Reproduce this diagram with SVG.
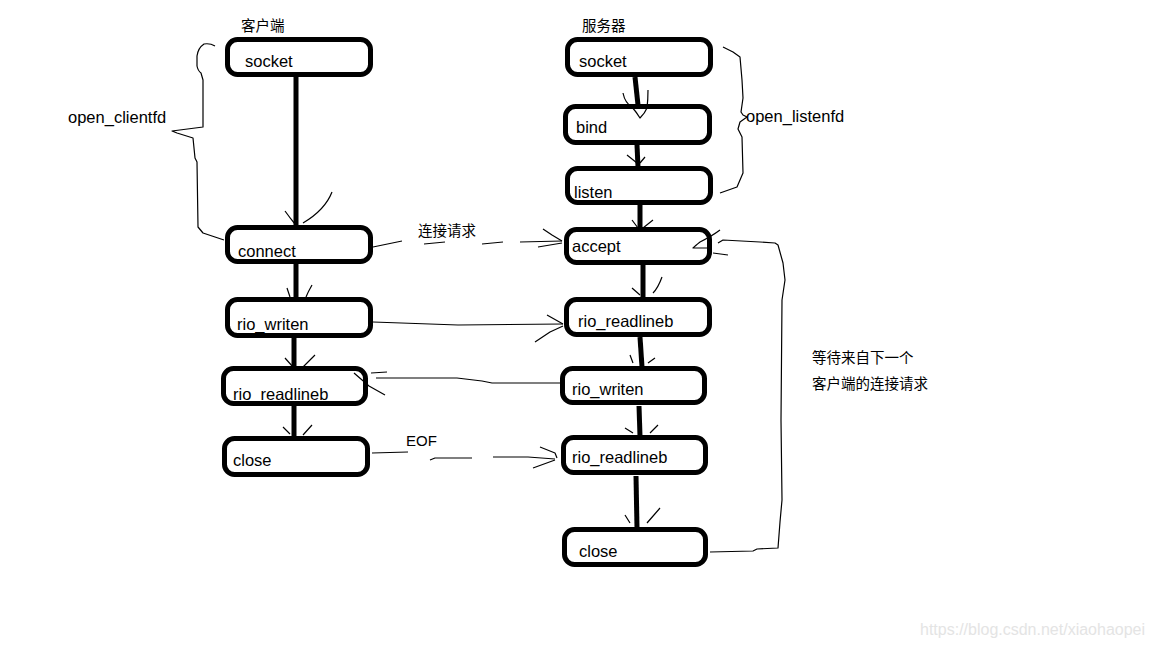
<svg xmlns="http://www.w3.org/2000/svg" width="1152" height="648" viewBox="0 0 1152 648">
<style>
.box{fill:none;stroke:#000;stroke-width:5}
.t{font-family:"Liberation Sans","Noto Sans",sans-serif;font-size:16.5px;fill:#000}
.cj{font-family:"Liberation Sans","Noto Sans CJK SC",sans-serif;font-size:14.5px;fill:#000}
.thick{stroke:#000;stroke-width:5;fill:none;stroke-linecap:butt}
.thin{stroke:#000;stroke-width:1.2;fill:none;stroke-linejoin:round}
.wm{font-family:"Liberation Sans",Arial,sans-serif;font-size:16px;fill:#e4e4e4}
</style>
<rect width="1152" height="648" fill="#fff"/>
<text class="cj" x="241" y="31">客户端</text>
<text class="cj" x="582" y="31">服务器</text>

<g id="connectors">
<!-- client vertical -->
<path class="thick" d="M296,77 L296,226"/>
<path class="thin" d="M285,211 Q290,218 295,224 M332,192 Q325,210 303,223"/>
<path class="thick" d="M296,264 L296,298"/>
<path class="thin" d="M287,288 L290,297 M312,285 Q308,292 306,297"/>
<path class="thick" d="M294,338 L294,367"/>
<path class="thin" d="M285,358 L293,367 M315,355 L303,367"/>
<path class="thick" d="M294,406 L294,437"/>
<path class="thin" d="M283,427 L290,434 M312,425 L303,435"/>
<!-- server vertical -->
<path class="thick" d="M635,77 L638,105"/>
<path class="thin" d="M623,93 Q625,103 632,107 Q637,113 640,118 Q645,113 647,108 Q648,100 648,90"/>
<path class="thick" d="M637,145 L638,167"/>
<path class="thin" d="M627,155 L637,163 M645,157 L640,163"/>
<path class="thick" d="M640,205 L640,228"/>
<path class="thin" d="M632,220 L638,228 M653,220 L643,228"/>
<path class="thick" d="M643,265 L643,298"/>
<path class="thin" d="M632,288 L640,295 M662,277 Q658,288 653,293"/>
<path class="thick" d="M640,337 L642,367"/>
<path class="thin" d="M630,355 L633,363 M655,358 L648,363"/>
<path class="thick" d="M639,406 L640,436"/>
<path class="thin" d="M625,428 L633,433 M658,425 L650,433"/>
<path class="thick" d="M636,476 L637,528"/>
<path class="thin" d="M625,515 L630,523 M660,508 L647,523"/>
<!-- connect -> accept (dashed, hand drawn) -->
<path class="thin" d="M373,247 L402,241 M424,244 L445,242 M482,244 L503,242 M520,242 L562,241"/>
<path class="thin" d="M543,229 L552,235 L562,241 M538,247 L562,243"/>
<!-- rio_writen -> rio_readlineb -->
<path class="thin" d="M373,322 L458,325 L563,324"/>
<path class="thin" d="M547,315 L563,324 M535,342 L550,332 L563,326"/>
<!-- server rio_writen -> client rio_readlineb -->
<path class="thin" d="M560,383 L492,383 L482,381 L457,378 L376,378"/>
<path class="thin" d="M387,372 L371,373 M354,373 L369,386 L385,395"/>
<!-- close -> rio_readlineb (dashed) -->
<path class="thin" d="M372,453 L408,452 M430,460 L435,458 L472,458 M493,457 L528,457 L555,459"/>
<path class="thin" d="M540,447 L555,453 L557,458 M533,468 L555,460"/>
<!-- loop close -> accept -->
<path class="thin" d="M710,552 L753,551 L757,549 L778,548 L780,522 L782,500 L781,420 L782,300 L785,280 L783,263 L778,245 L775,243 L760,242 L723,240 L718,243"/>
<path class="thin" d="M720,230 Q712,236 700,242 Q695,246 693,248 L712,248 M713,253 L728,255"/>
<!-- braces -->
<path class="thin" d="M215,46 Q210,43 204,44 Q198,48 197,56 L197,66 Q198,71 201,73 L203,80 L203,127 L172,131 L177,133 L193,138 L195,158 L197,162 L198,227 L203,233 L215,237 L224,240"/>
<path class="thin" d="M723,47 L733,52 L740,57 L742,80 L743,98 L741,112 L743,115 L747,117 L740,122 L738,129 L742,137 L743,173 L737,187 L720,193"/>
</g>

<g id="c_socket"><rect class="box" x="227.5" y="39.5" width="143" height="35" rx="10"/><text class="t" x="245" y="67">socket</text></g>
<g id="c_connect"><rect class="box" x="227.5" y="227.5" width="143" height="34" rx="10"/><text class="t" x="238" y="257">connect</text></g>
<g id="c_writen"><rect class="box" x="227.5" y="299.5" width="143" height="36" rx="10"/><text class="t" x="237" y="330">rio_writen</text></g>
<g id="c_readlineb"><rect class="box" x="223.5" y="368.5" width="142" height="35" rx="10"/><text class="t" x="233" y="400">rio_readlineb</text></g>
<g id="c_close"><rect class="box" x="224.5" y="438.5" width="143" height="36" rx="10"/><text class="t" x="233" y="466">close</text></g>

<g id="s_socket"><rect class="box" x="567.5" y="39.5" width="143" height="35" rx="10"/><text class="t" x="579" y="67">socket</text></g>
<g id="s_bind"><rect class="box" x="565.5" y="106.5" width="144" height="36" rx="10"/><text class="t" x="576" y="133">bind</text></g>
<g id="s_listen"><rect class="box" x="567.5" y="168.5" width="143" height="34" rx="10"/><text class="t" x="574" y="198">listen</text></g>
<g id="s_accept"><rect class="box" x="566.5" y="229.5" width="143" height="33" rx="10"/><text class="t" x="572" y="252">accept</text></g>
<g id="s_readlineb1"><rect class="box" x="566.5" y="299.5" width="143" height="35" rx="10"/><text class="t" x="578" y="327">rio_readlineb</text></g>
<g id="s_writen"><rect class="box" x="562.5" y="368.5" width="142" height="34" rx="10"/><text class="t" x="572" y="395">rio_writen</text></g>
<g id="s_readlineb2"><rect class="box" x="563.5" y="437.5" width="142" height="35" rx="10"/><text class="t" x="572" y="463">rio_readlineb</text></g>
<g id="s_close"><rect class="box" x="564.5" y="529.5" width="141" height="35" rx="10"/><text class="t" x="579" y="557">close</text></g>

<g id="labels">
<text class="t" x="68" y="123">open_clientfd</text>
<text class="t" x="746" y="122">open_listenfd</text>
<text class="cj" x="418" y="236">连接请求</text>
<text class="t" x="406" y="446" style="font-size:15px">EOF</text>
<text class="cj" x="812" y="363">等待来自下一个</text>
<text class="cj" x="812" y="389">客户端的连接请求</text>
</g>
<text class="wm" x="920" y="635">https://blog.csdn.net/xiaohaopei</text>
</svg>
